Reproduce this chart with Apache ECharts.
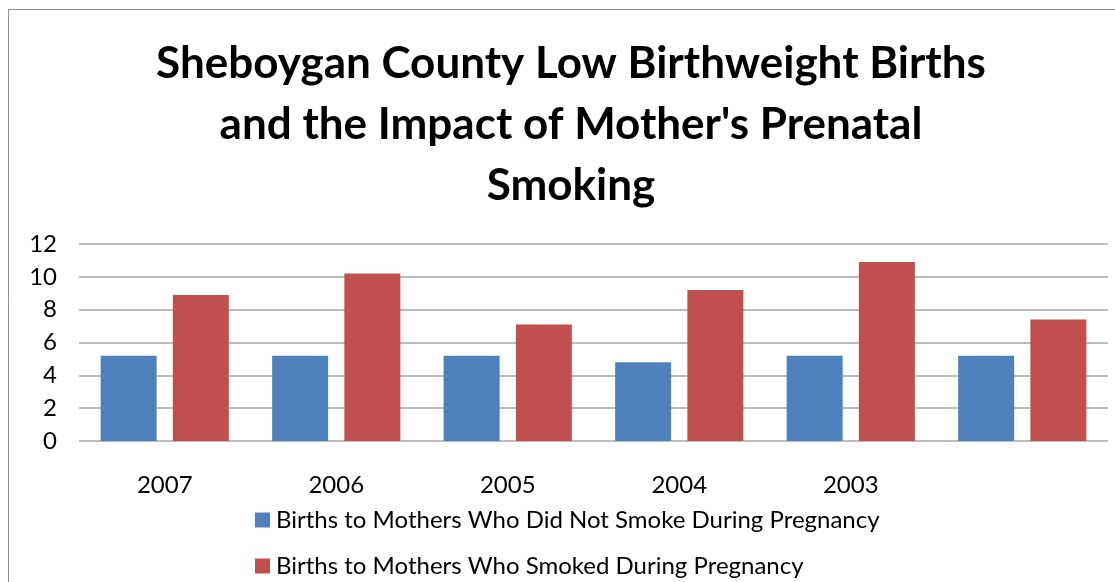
<!DOCTYPE html>
<html>
<head>
<meta charset="utf-8">
<script src="https://cdn.jsdelivr.net/npm/echarts@6/dist/echarts.min.js"></script>
<style>
  html, body { margin: 0; padding: 0; background: #fff; }
  #container { width: 1115px; height: 582px; }
</style>
</head>
<body>
<div id="container"></div>
<script>
// 数据
var years = ['2007', '2006', '2005', '2004', '2003', ''];
var nonSmokers = [5.2, 5.2, 5.2, 4.8, 5.2, 5.2];
var smokers = [8.9, 10.2, 7.1, 9.2, 10.9, 7.4];
var seriesNames = [
  'Births to Mothers Who Did Not Smoke During Pregnancy',
  'Births to Mothers Who Smoked During Pregnancy'
];
var titleText = "Sheboygan County Low Birthweight Births\nand the Impact of Mother's Prenatal\nSmoking";

var fontName = 'Lato';
var labelSize = 24;

var dom = document.getElementById('container');
var myChart = echarts.init(dom, null, { renderer: 'canvas' });

// 图例：每个系列一行
function makeLegend(name, top) {
  return {
    data: [name],
    left: 250,
    top: top,
    itemWidth: 15,
    itemHeight: 15,
    icon: 'rect',
    textStyle: { fontFamily: fontName, fontSize: labelSize, color: '#000', padding: [0, 0, 0, 1] }
  };
}

var option = {
  animation: false,
  textStyle: { fontFamily: fontName, color: '#000' },
  graphic: [{
    type: 'rect',
    shape: { x: 8.5, y: 9.5, width: 1120, height: 600 },
    style: { fill: 'none', stroke: '#8c8c8c', lineWidth: 1 },
    silent: true
  }],
  title: {
    text: titleText,
    left: 566,
    textAlign: 'center',
    top: 28,
    textStyle: {
      fontFamily: fontName,
      fontSize: 44,
      fontWeight: 'bold',
      lineHeight: 61,
      color: '#000'
    }
  },
  legend: [
    makeLegend(seriesNames[0], 503),
    makeLegend(seriesNames[1], 549)
  ],
  grid: {
    left: 79,
    right: 7,
    top: 244,
    bottom: 141,
    containLabel: false
  },
  xAxis: {
    type: 'category',
    data: years,
    axisLine: { show: false },
    axisTick: { show: false },
    axisLabel: { fontFamily: fontName, fontSize: labelSize, color: '#000', margin: 32 }
  },
  yAxis: {
    type: 'value',
    min: 0,
    max: 12,
    interval: 2,
    axisLine: { show: false },
    axisTick: { show: false },
    axisLabel: { fontFamily: fontName, fontSize: labelSize, color: '#000', margin: 22 },
    splitLine: { lineStyle: { color: '#a6a6a6', width: 1.5 } }
  },
  series: [
    {
      name: seriesNames[0],
      type: 'bar',
      data: nonSmokers,
      barWidth: 56,
      barGap: '29%',
      itemStyle: { color: '#4F81BD' }
    },
    {
      name: seriesNames[1],
      type: 'bar',
      data: smokers,
      barWidth: 56,
      barGap: '29%',
      itemStyle: { color: '#C0504D' }
    }
  ]
};

myChart.setOption(option);
window.addEventListener('resize', myChart.resize);
</script>
</body>
</html>
